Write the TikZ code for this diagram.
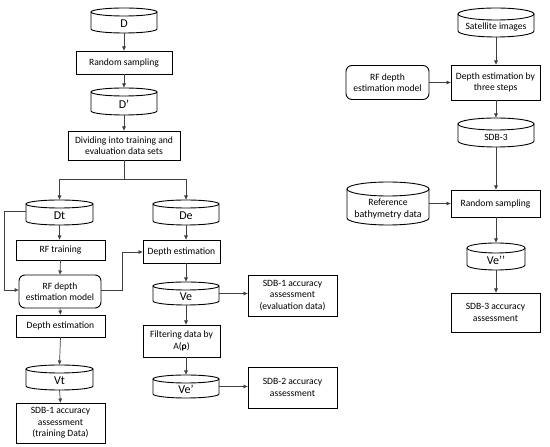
\documentclass[tikz,border=0pt]{standalone}
\usepackage{fontspec}
\setmainfont{Carlito}
\usetikzlibrary{calc,arrows.meta}
\tikzset{
  boxline/.style={draw=black, line width=0.9pt},
  box/.style={boxline, rectangle, inner sep=1pt, outer sep=0pt, align=center, font=\fontsize{9.6}{11.5}\selectfont},
  rbox/.style={box, rounded corners=6pt},
  arr/.style={draw=black!75, line width=0.7pt, -{Latex[length=4.5pt,width=4pt]}},
  ln/.style={draw=black!75, line width=0.7pt},
}
\newcommand{\cyl}[7]{%
  \node[minimum width=#4pt, minimum height=#5pt, inner sep=0pt, outer sep=0pt, draw=none] (#1) at (#2,#3) {};
  \draw[boxline, fill=white] ($(#1.north west)+(0,-#6pt)$) -- ($(#1.south west)+(0,#6pt)$) arc[start angle=180,end angle=360,x radius={#4pt/2},y radius=#6pt] -- ($(#1.north east)+(0,-#6pt)$);
  \draw[boxline] ($(#1.north)+(0,-#6pt)$) ellipse[x radius={#4pt/2}, y radius=#6pt];
  \node[align=center, inner sep=0pt] at ($(#1.center)+(0,-0.8*#6pt)$) {#7};
}
\begin{document}
\begin{tikzpicture}[x=1pt,y=1pt]
\useasboundingbox (0,0) rectangle (550,447);
\def\big{\fontsize{12}{13}\selectfont}
\def\sm{\fontsize{9.6}{11.5}\selectfont}
% left column
\cyl{D}{124}{426.5}{66}{25}{4}{\big D}
\node[box, minimum width=96pt, minimum height=23pt] (rs1) at (124,384.5) {Random sampling};
\cyl{Dp}{124}{345.5}{66}{27}{4}{\big D’}
\node[box, minimum width=112pt, minimum height=29pt] (div) at (124,301.5) {Dividing into training and\\evaluation data sets};
\coordinate (br) at (124,268);
\cyl{Dt}{59.5}{234.5}{67}{25}{4}{\big Dt}
\cyl{De}{186}{234.5}{66}{25}{4}{\big De}
\node[box, minimum width=89pt, minimum height=20pt] (rft) at (60.5,197) {RF training};
\node[rbox, minimum width=82pt, minimum height=33pt] (rfm) at (60,155.5) {RF depth\\estimation model};
\node[box, minimum width=89pt, minimum height=22pt] (del) at (60.5,121) {Depth estimation};
\cyl{Vt}{59.5}{69.5}{67}{25}{4}{\big Vt}
\node[box, minimum width=89pt, minimum height=40pt] (sdbt) at (60.5,24) {SDB-1 accuracy\\assessment\\(training Data)};
% middle column
\node[box, minimum width=77pt, minimum height=23pt] (der) at (181.5,195.5) {Depth estimation};
\cyl{Ve}{186}{153.5}{66}{23}{4}{\big Ve}
\node[box, minimum width=77pt, minimum height=32pt] (filt) at (181.5,106) {Filtering data by\\A({\bfseries ρ})};
\cyl{Vep}{186}{60.5}{66}{23}{4}{\big Ve’}
\node[box, minimum width=89pt, minimum height=41pt] (sdbe) at (292.5,151.5) {SDB-1 accuracy\\assessment\\(evaluation data)};
\node[box, minimum width=89pt, minimum height=41pt] (sdb2) at (292.5,59.5) {SDB-2 accuracy\\assessment};
\coordinate (fb1) at (4,235.5);
\coordinate (fb2) at (4,157);
\coordinate (mid1) at (122,157);
\coordinate (mid2) at (122,195);
% right column
\cyl{sat}{496}{424.5}{76}{29}{6}{\sm Satellite images}
\node[box, minimum width=89pt, minimum height=35pt] (de3) at (495.5,364.5) {Depth estimation by\\three steps};
\node[rbox, minimum width=83pt, minimum height=34pt] (rf2) at (387.5,364.5) {RF depth\\estimation model};
\cyl{sdbc}{496}{314.5}{76}{29}{6}{\sm SDB-3}
\node[box, minimum width=89pt, minimum height=27pt] (rs2) at (495.5,243.5) {Random sampling};
\cyl{ref}{388}{243.5}{82}{43}{7}{\sm Reference\\bathymetry data}
\cyl{vepp}{496}{190.5}{58}{27}{5}{\big Ve’’}
\node[box, minimum width=89pt, minimum height=39pt] (sdbacc) at (495.5,134.5) {SDB-3 accuracy\\assessment};
% connectors left
\draw[arr] (D.south) -- (rs1.north);
\draw[arr] (rs1.south) -- (Dp.north);
\draw[arr] (Dp.south) -- (div.north);
\draw[ln] (div.south) -- (br);
\draw[arr] (br) -| (Dt.north);
\draw[arr] (br) -| (De.north);
\draw[arr] (Dt.south) -- (Dt.south |- rft.north);
\draw[arr] (rft.south) -- (rfm.north);
\draw[arr] ($(Dt.west)+(0,1)$) -- (fb1) -- (fb2) -- (fb2 -| rfm.west);
\draw[arr] (rfm.south) -- (del.north);
\draw[arr] (del.south) -- (Vt.north);
\draw[arr] (Vt.south) -- (sdbt.north);
\draw[arr] (mid1 -| rfm.east) -- (mid1) -- (mid2) -- (mid2 -| der.west);
\draw[arr] (De.south) -- (De.south |- der.north);
\draw[arr] (Ve.south |- der.south) -- (Ve.north);
\draw[arr] (Ve.south) -- (Ve.south |- filt.north);
\draw[arr] (Vep.north |- filt.south) -- (Vep.north);
\draw[arr] (Ve.east) -- (Ve.east -| sdbe.west);
\draw[arr] (Vep.east) -- (Vep.east -| sdb2.west);
% connectors right
\draw[arr] (sat.south) -- (sat.south |- de3.north);
\draw[arr] (rf2.east) -- (rf2.east -| de3.west);
\draw[arr] (sdbc.south |- de3.south) -- (sdbc.north);
\draw[arr] (sdbc.south) -- (sdbc.south |- rs2.north);
\draw[arr] (ref.east) -- (ref.east -| rs2.west);
\draw[arr] (vepp.north |- rs2.south) -- (vepp.north);
\draw[arr] (vepp.south) -- (vepp.south |- sdbacc.north);
\end{tikzpicture}
\end{document}
